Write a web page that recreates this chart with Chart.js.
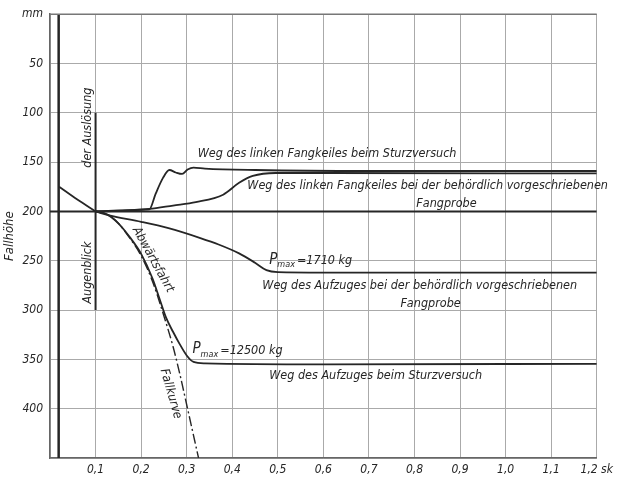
<!DOCTYPE html>
<html>
<head>
<meta charset="utf-8">
<script src="https://cdn.jsdelivr.net/npm/chart.js@4.4.1/dist/chart.umd.min.js"></script>
<style>
  html, body { margin: 0; padding: 0; background: #fff; }
</style>
</head>
<body>
<canvas id="chart" width="618" height="479"></canvas>
<script>
const xTickLabels = ['', '0,1', '0,2', '0,3', '0,4', '0,5', '0,6', '0,7', '0,8', '0,9', '1,0', '1,1', '1,2 sk'];
const yTickLabels = ['mm', '50', '100', '150', '200', '250', '300', '350', '400', ''];

// Zeit in s, Fallhoehe in mm
const vorlaufT = [0.02, 0.06, 0.1];
const vorlaufMm = [175, 188, 200];

const nullLinieT = [0, 1.2];
const nullLinieMm = [200, 200];

const zeitachseT = [0.019, 0.019];
const zeitachseMm = [0, 450];

const ausloesungT = [0.1, 0.1];
const ausloesungMm = [100, 300];

const keilSturzT = [0.1, 0.15, 0.2, 0.218, 0.232, 0.248, 0.262, 0.276, 0.29, 0.302, 0.315, 0.34, 0.45, 0.7, 1.2];
const keilSturzMm = [200, 199.5, 198.5, 198, 182, 166, 158, 160.5, 162, 157.5, 155.5, 156.5, 158, 159, 159];

const keilProbeT = [0.1, 0.15, 0.218, 0.27, 0.32, 0.38, 0.415, 0.445, 0.495, 0.6, 1.2];
const keilProbeMm = [200, 199, 197.5, 194, 190.5, 183, 171, 164, 161, 161, 161.5];

const aufzugProbeT = [0.1, 0.13, 0.2, 0.26, 0.33, 0.37, 0.415, 0.45, 0.475, 0.5, 0.6, 1.2];
const aufzugProbeMm = [200, 204, 210.5, 217, 227, 233.5, 242.5, 252, 259.5, 261.5, 262, 262];

const aufzugSturzT = [0.1, 0.125, 0.15, 0.175, 0.2, 0.225, 0.24, 0.255, 0.27, 0.284, 0.3, 0.315, 0.34, 0.6, 1.2];
const aufzugSturzMm = [200, 203, 212, 226, 243, 268, 288, 308, 322, 334, 346, 352.5, 354, 355, 354.5];

const fallkurveT = [0.1, 0.125, 0.15, 0.175, 0.2, 0.225, 0.25, 0.27, 0.285, 0.3, 0.326];
const fallkurveMm = [200, 203, 212, 227, 245, 271, 306, 337, 365, 396, 450];

const ink = '#262626';
const familie = '"DejaVu Sans Condensed", "Liberation Sans Narrow", sans-serif';
const schrift = size => `italic ${size}px ${familie}`;

const punkte = (t, mm) => t.map((v, i) => ({ x: v, y: mm[i] }));

const linie = (t, mm, width, extra = {}) => ({
  data: punkte(t, mm),
  borderColor: ink,
  borderWidth: width,
  pointRadius: 0,
  cubicInterpolationMode: 'monotone',
  fill: false,
  ...extra
});

// Beschriftungen an Datenkoordinaten (t, mm), rot in Grad
const notes = [
  { text: 'Weg des linken Fangkeiles beim Sturzversuch', t: 0.324, mm: 142 },
  { text: 'Weg des linken Fangkeiles bei der behördlich vorgeschriebenen', t: 0.433, mm: 173.5 },
  { text: 'Fangprobe', t: 0.804, mm: 192.5 },
  { text: 'Weg des Aufzuges bei der behördlich vorgeschriebenen', t: 0.466, mm: 275.5 },
  { text: 'Fangprobe', t: 0.769, mm: 293.5 },
  { text: 'Weg des Aufzuges beim Sturzversuch', t: 0.481, mm: 367 },
  { text: 'der Auslösung', t: 0.083, mm: 115, rot: -90, align: 'center' },
  { text: 'Augenblick', t: 0.083, mm: 262, rot: -90, align: 'center' },
  { text: 'Abwärtsfahrt', t: 0.226, mm: 249, rot: 61, align: 'center' },
  { text: 'Fallkurve', t: 0.265, mm: 385, rot: 74, align: 'center' }
];

const kraefte = [
  { wert: '=1710 kg', t: 0.481, mm: 250 },
  { wert: '=12500 kg', t: 0.3126, mm: 341 }
];

const beschriftung = {
  id: 'beschriftung',
  afterDatasetsDraw(chart) {
    const { ctx, chartArea: area, scales: { x, y } } = chart;
    ctx.save();
    // oberer Rahmen
    ctx.strokeStyle = '#777';
    ctx.lineWidth = 1.5;
    ctx.beginPath();
    ctx.moveTo(area.left, area.top);
    ctx.lineTo(area.right, area.top);
    ctx.stroke();

    ctx.fillStyle = ink;
    ctx.textBaseline = 'middle';
    notes.forEach(n => {
      ctx.save();
      ctx.translate(x.getPixelForValue(n.t), y.getPixelForValue(n.mm));
      ctx.rotate((n.rot || 0) * Math.PI / 180);
      ctx.textAlign = n.align || 'left';
      ctx.font = schrift(12.5);
      ctx.fillText(n.text, 0, 0);
      ctx.restore();
    });
    kraefte.forEach(k => {
      let px = x.getPixelForValue(k.t);
      const py = y.getPixelForValue(k.mm);
      ctx.textAlign = 'left';
      ctx.font = schrift(15);
      ctx.fillText('P', px, py - 1);
      px += ctx.measureText('P').width;
      ctx.font = schrift(9);
      ctx.fillText('max', px, py + 4);
      px += ctx.measureText('max').width + 2;
      ctx.font = schrift(12.5);
      ctx.fillText(k.wert, px, py);
    });
    ctx.restore();
  }
};

new Chart(document.getElementById('chart'), {
  type: 'line',
  data: {
    datasets: [
      linie(zeitachseT, zeitachseMm, 2.5, { cubicInterpolationMode: 'default', tension: 0 }),
      linie(nullLinieT, nullLinieMm, 2, { cubicInterpolationMode: 'default', tension: 0 }),
      linie(ausloesungT, ausloesungMm, 2, { cubicInterpolationMode: 'default', tension: 0 }),
      linie(vorlaufT, vorlaufMm, 1.8),
      linie(keilSturzT, keilSturzMm, 1.8),
      linie(keilProbeT, keilProbeMm, 1.8),
      linie(aufzugProbeT, aufzugProbeMm, 1.8),
      linie(aufzugSturzT, aufzugSturzMm, 1.8),
      linie(fallkurveT, fallkurveMm, 1.4, { borderDash: [10, 3, 2, 3] })
    ]
  },
  options: {
    responsive: false,
    animation: false,
    layout: { padding: { top: 12, right: 19, left: 0, bottom: 0 } },
    plugins: {
      legend: { display: false },
      tooltip: { enabled: false }
    },
    scales: {
      x: {
        type: 'linear',
        min: 0,
        max: 1.2,
        afterFit: scale => { scale.height = 21; },
        grid: { color: '#aaaaaa', lineWidth: 1, drawTicks: false },
        border: { color: '#666', width: 1.5 },
        ticks: {
          stepSize: 0.1,
          autoSkip: false,
          maxRotation: 0,
          padding: 5,
          color: ink,
          font: { family: familie, style: 'italic', size: 12 },
          callback: value => xTickLabels[Math.round(value * 10)] ?? ''
        }
      },
      y: {
        type: 'linear',
        reverse: true,
        min: 0,
        max: 450,
        afterFit: scale => { scale.width = 50; },
        grid: { color: '#aaaaaa', lineWidth: 1, drawTicks: false },
        border: { color: '#666', width: 1.5 },
        title: {
          display: true,
          text: 'Fallhöhe',
          color: ink,
          padding: { top: 2, bottom: 0 },
          font: { family: familie, style: 'italic', size: 13 }
        },
        ticks: {
          stepSize: 50,
          autoSkip: false,
          padding: 7,
          color: ink,
          font: { family: familie, style: 'italic', size: 12 },
          callback: value => yTickLabels[Math.round(value / 50)] ?? ''
        }
      }
    }
  },
  plugins: [beschriftung]
});
</script>
</body>
</html>
